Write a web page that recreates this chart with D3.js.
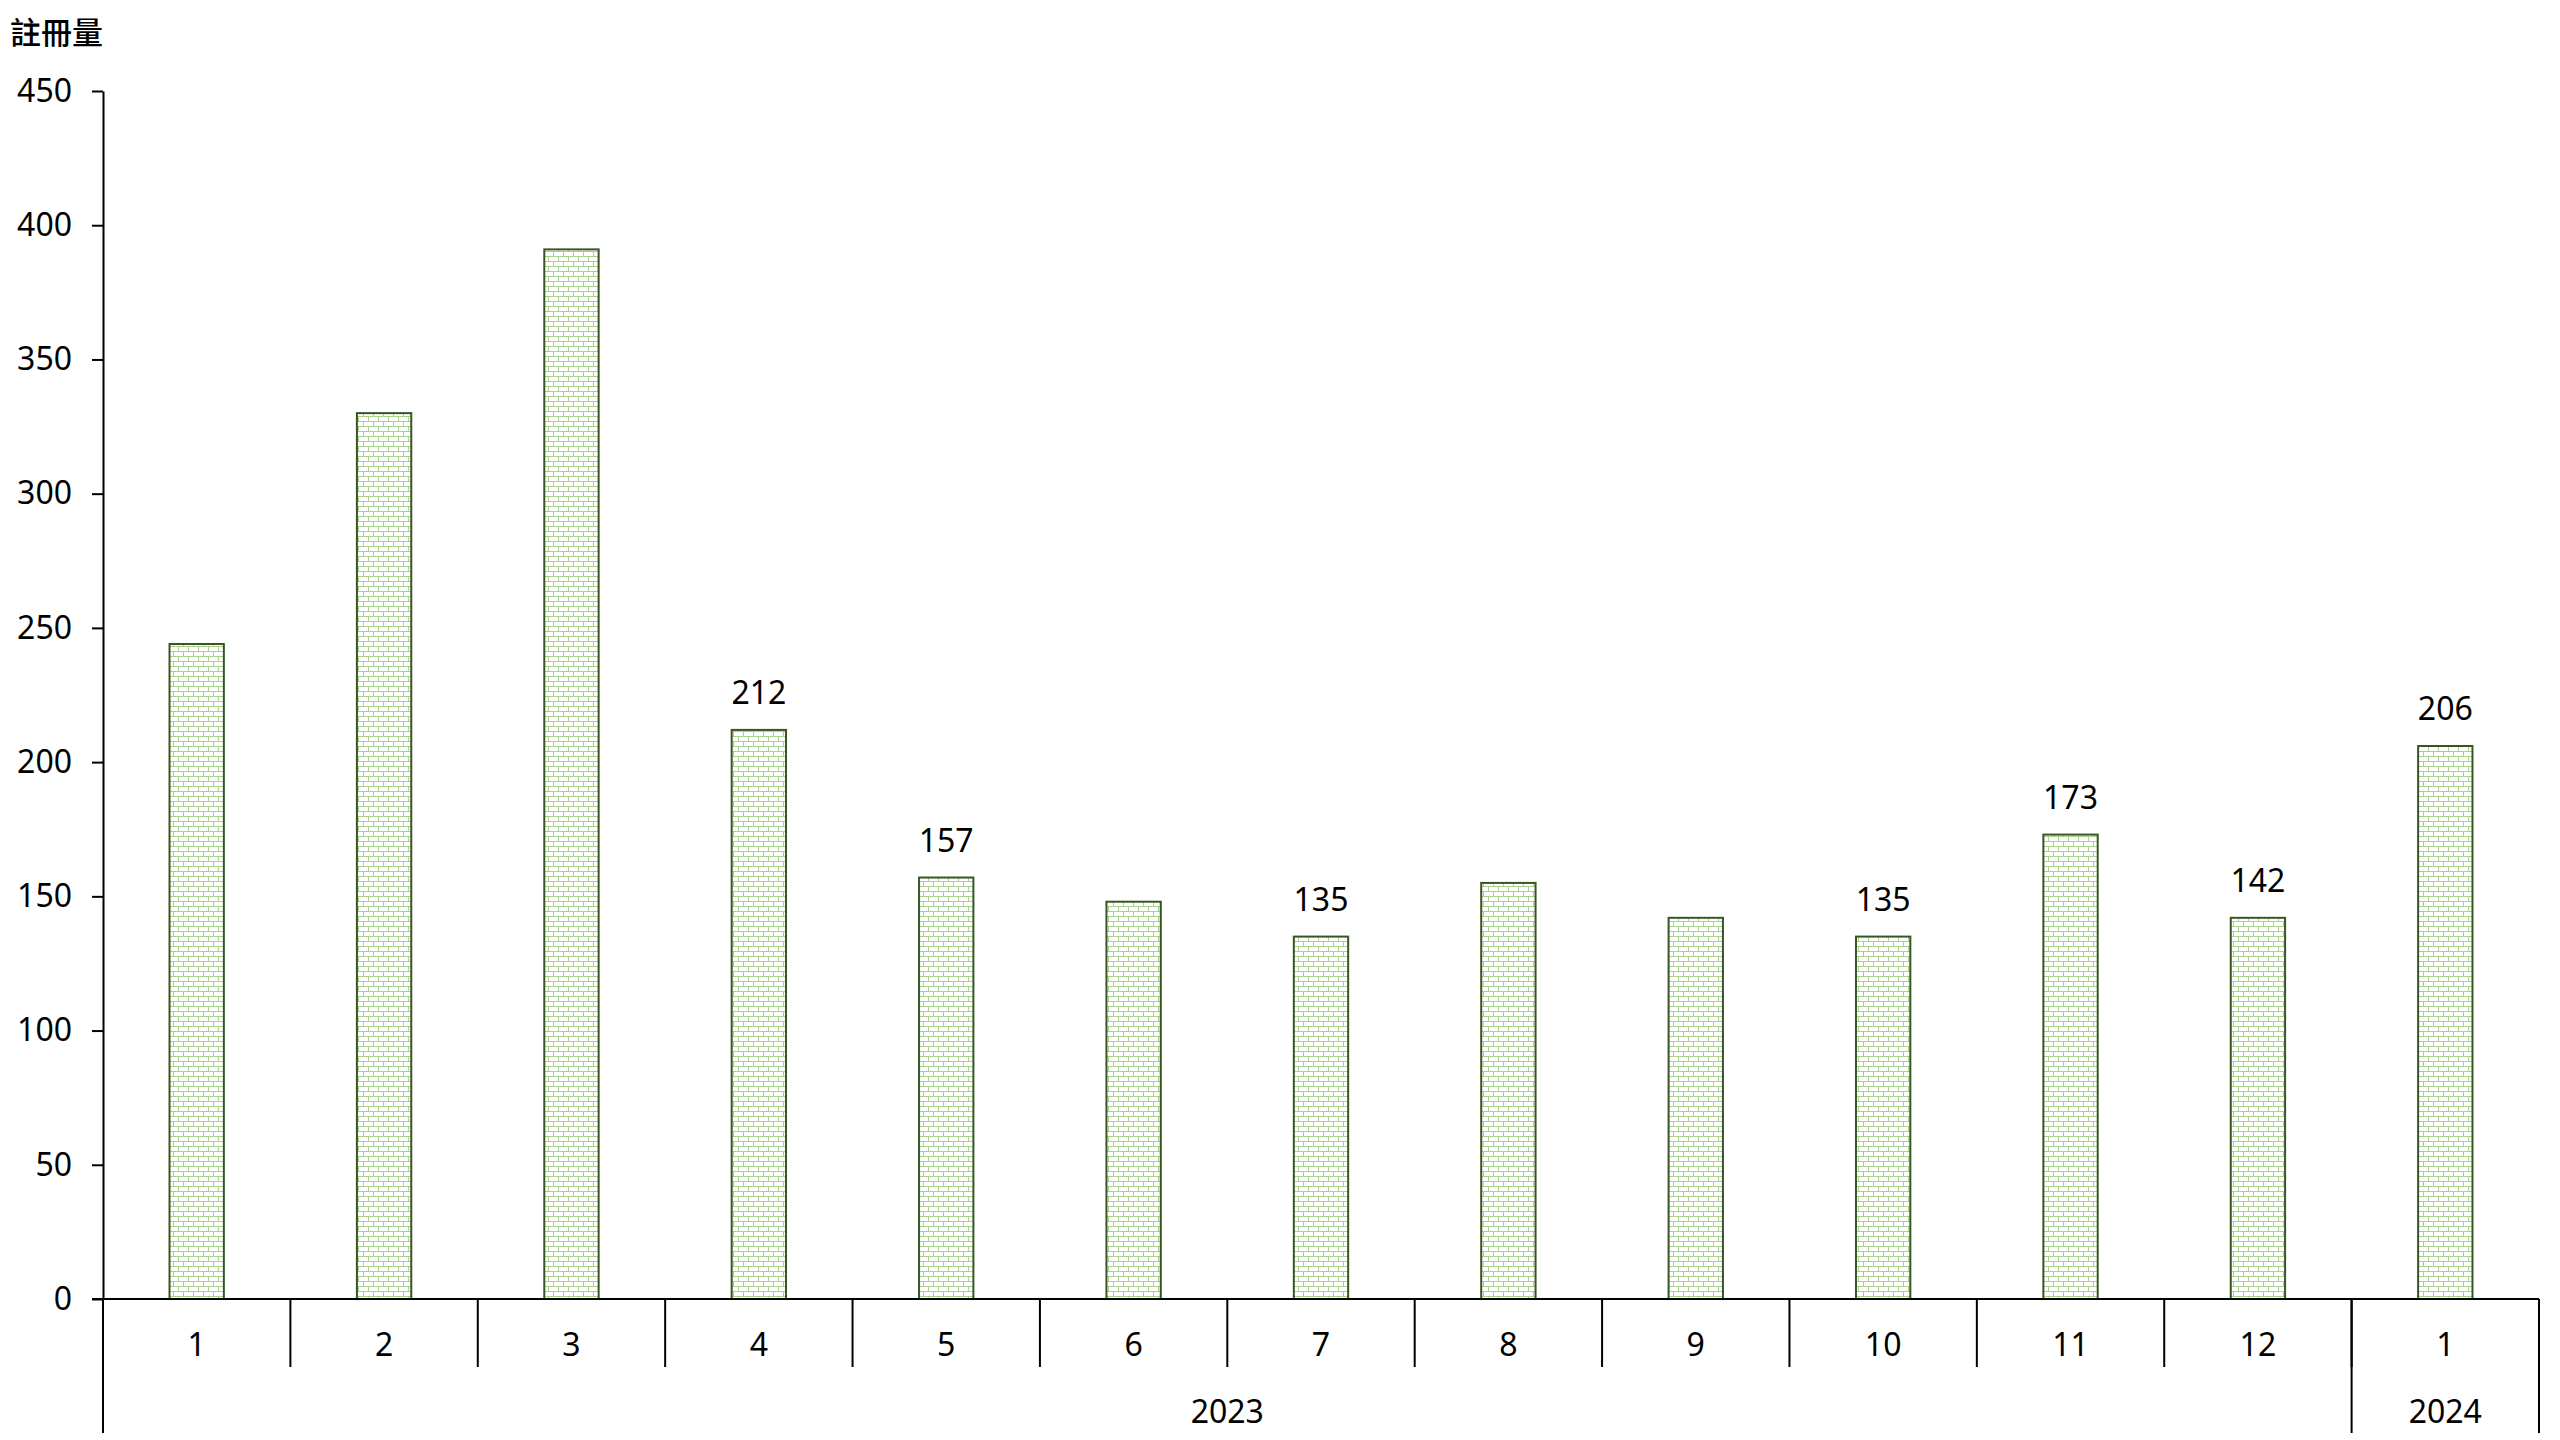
<!DOCTYPE html>
<html>
<head>
<meta charset="utf-8">
<script src="https://cdn.jsdelivr.net/npm/d3@7"></script>
<style>
  body { margin: 0; background: #fff; }
  text { font-family: "Noto Sans", "Noto Sans CJK TC", sans-serif; fill: #000; }
</style>
</head>
<body>
<div id="chart"></div>
<script>
// data
const months = ["1","2","3","4","5","6","7","8","9","10","11","12","1"];
const years = ["2023","2023","2023","2023","2023","2023","2023","2023","2023","2023","2023","2023","2024"];
const values = [244, 330, 391, 212, 157, 148, 135, 155, 142, 135, 173, 142, 206];
// which bars show a value label
const showLabel = [false,false,false,true,true,false,true,false,false,true,true,true,true];
const yTicks = [0, 50, 100, 150, 200, 250, 300, 350, 400, 450];

const width = 2560, height = 1440;
const margin = {top: 91, left: 103, right: 21, bottom: 141};
const visWidth = width - margin.left - margin.right;
const visHeight = height - margin.top - margin.bottom;

const svg = d3.select("#chart").append("svg")
    .attr("width", width)
    .attr("height", height);

// brick pattern
const defs = svg.append("defs");
const pat = defs.append("pattern")
    .attr("id", "brick")
    .attr("patternUnits", "userSpaceOnUse")
    .attr("width", 10)
    .attr("height", 10);
pat.append("rect").attr("width", 10).attr("height", 10).attr("fill", "#fff");
pat.append("path")
    .attr("d", "M0,0.5H10M0,5.5H10M0.5,0V5.5M5.5,5.5V10")
    .attr("stroke", "#a9d18e")
    .attr("stroke-width", 1)
    .attr("fill", "none");

const g = svg.append("g")
    .attr("transform", `translate(${margin.left},${margin.top})`);

const idx = d3.range(values.length);

const x = d3.scaleBand()
    .domain(idx)
    .range([0, visWidth])
    .padding(0);

const y = d3.scaleLinear()
    .domain([0, 450])
    .range([visHeight, 0]);

const barW = x.bandwidth() * 0.29;

// bars
g.append("g")
  .selectAll("rect")
  .data(idx)
  .enter().append("rect")
    .attr("x", d => x(d) + x.bandwidth() / 2 - barW / 2)
    .attr("y", d => y(values[d]))
    .attr("width", barW)
    .attr("height", d => y(0) - y(values[d]))
    .attr("fill", "url(#brick)")
    .attr("stroke", "#375623")
    .attr("stroke-width", 2);

// value labels
g.append("g")
  .selectAll("text")
  .data(idx.filter(d => showLabel[d]))
  .enter().append("text")
    .attr("x", d => x(d) + x.bandwidth() / 2)
    .attr("y", d => y(values[d]) - 26)
    .attr("text-anchor", "middle")
    .attr("font-size", "32px")
    .text(d => values[d]);

// y axis
const yAxis = g.append("g")
    .call(d3.axisLeft(y).tickValues(yTicks).tickSize(11).tickPadding(20).tickSizeOuter(0));
yAxis.select(".domain").attr("stroke", "#000").attr("stroke-width", 2);
yAxis.selectAll(".tick line").attr("stroke", "#000").attr("stroke-width", 2);
yAxis.selectAll(".tick text").attr("font-size", "32px").attr("font-family", "Noto Sans").attr("fill", "#000");

// x axis baseline
g.append("line")
    .attr("x1", -11).attr("x2", visWidth)
    .attr("y1", visHeight).attr("y2", visHeight)
    .attr("stroke", "#000").attr("stroke-width", 2);

// month boundaries
const yearGroups = d3.groups(idx, d => years[d]);
const yearEdges = [0].concat(yearGroups.map(gr => x(gr[1][gr[1].length - 1]) + x.bandwidth()));

g.append("g")
  .selectAll("line")
  .data(idx.slice(1))
  .enter().append("line")
    .attr("x1", d => x(d)).attr("x2", d => x(d))
    .attr("y1", visHeight).attr("y2", visHeight + 68)
    .attr("stroke", "#000").attr("stroke-width", 2);

// year boundaries (long)
g.append("g")
  .selectAll("line")
  .data(yearEdges)
  .enter().append("line")
    .attr("x1", d => d).attr("x2", d => d)
    .attr("y1", visHeight).attr("y2", visHeight + 134)
    .attr("stroke", "#000").attr("stroke-width", 2);

// month labels
g.append("g")
  .selectAll("text")
  .data(idx)
  .enter().append("text")
    .attr("x", d => x(d) + x.bandwidth() / 2)
    .attr("y", visHeight + 46)
    .attr("dy", "0.35em")
    .attr("text-anchor", "middle")
    .attr("font-size", "32px")
    .text(d => months[d]);

// year labels
g.append("g")
  .selectAll("text")
  .data(yearGroups)
  .enter().append("text")
    .attr("x", (d, i) => (yearEdges[i] + yearEdges[i + 1]) / 2)
    .attr("y", visHeight + 113)
    .attr("dy", "0.35em")
    .attr("text-anchor", "middle")
    .attr("font-size", "32px")
    .text(d => d[0]);

// axis title
svg.append("text")
    .attr("x", 10)
    .attr("y", 33)
    .attr("dy", "0.35em")
    .attr("font-size", "31px")
    .attr("font-family", "Noto Sans CJK TC")
    .attr("font-weight", "500")
    .text("註冊量");
</script>
</body>
</html>
